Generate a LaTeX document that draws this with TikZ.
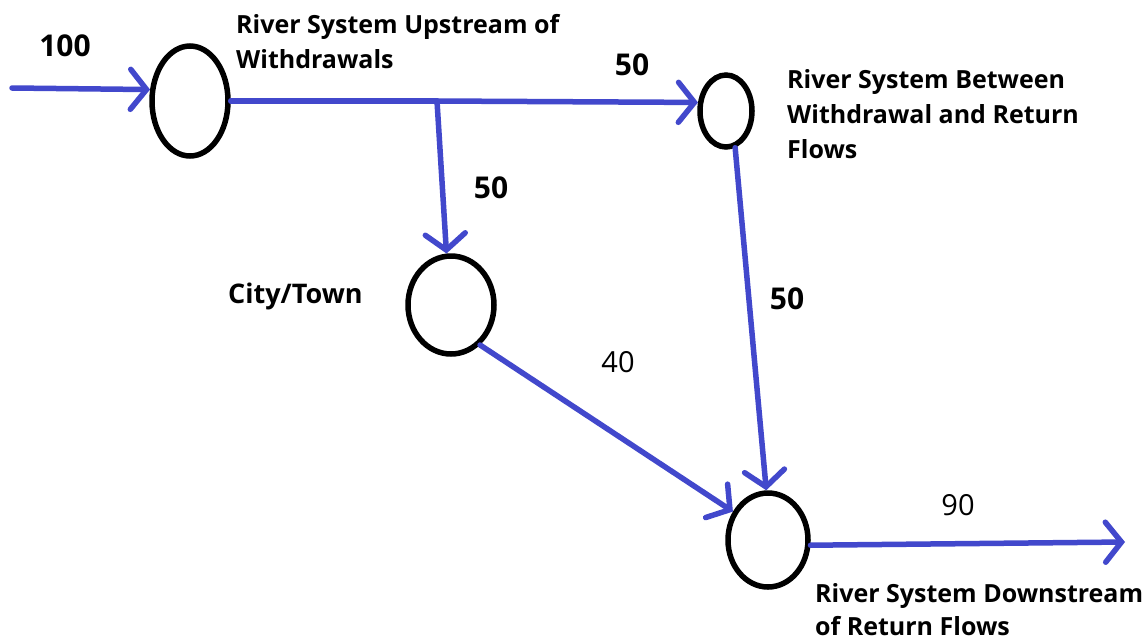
\documentclass[tikz,border=0pt]{standalone}
\usepackage{fontspec}
\setmainfont{Open Sans}
\usetikzlibrary{shapes.geometric,arrows.meta}
\definecolor{flowblue}{RGB}{66,72,204}
\tikzset{
  pool/.style={ellipse, draw=black, line width=5.5pt, inner sep=0pt},
  flow/.style={draw=flowblue, line width=5.5pt, line cap=round,
    -{Straight Barb[length=16pt,width=40pt,line cap=round]}},
  plain/.style={draw=flowblue, line width=5.5pt, line cap=round},
  title/.style={anchor=north west, align=left, inner sep=0pt, font=\fontsize{25}{35}\selectfont\bfseries},
  qty/.style={anchor=base, inner sep=0pt, font=\fontsize{30}{34}\selectfont\bfseries},
  qtyreg/.style={anchor=base, inner sep=0pt, font=\fontsize{29}{34}\selectfont}
}
\begin{document}
\begin{tikzpicture}[x=1pt,y=-1pt]
\path[use as bounding box, fill=white] (0,0) rectangle (1146,641);
% pools
\node[pool, minimum width=76pt, minimum height=110pt] (up) at (190,101) {};
\node[pool, minimum width=52pt, minimum height=72pt] (mid) at (726,111) {};
\node[pool, minimum width=86pt, minimum height=98pt] (city) at (451,305) {};
\node[pool, minimum width=80pt, minimum height=94pt] (down) at (768,540) {};
% free ends
\coordinate (in) at (12,88);
\coordinate (split) at (437,101);
\coordinate (out) at (1125,542);
% flows
\draw[flow] (in) -- (up.164);
\draw[plain] (up.east) -- (split);
\draw[flow] (split) -- (mid.163);
\draw[flow] (split) -- (city.95);
\draw[flow] (mid.-76) -- (down.92);
\draw[flow] (city.-54) -- (down.141);
\draw[flow] (down.-7) -- (out);
% texts
\node[title] (t1) at (236,14) {River System Upstream of\\Withdrawals};
\node[title] (t2) at (787,69) {River System Between\\Withdrawal and Return\\Flows};
\node[title, font=\fontsize{25}{33}\selectfont\bfseries] (t3) at (815,583) {River System Downstream\\of Return Flows};
\node[anchor=base west, inner sep=0pt, font=\fontsize{27}{30}\selectfont\bfseries] (tc) at (228,303) {City/Town};
\node[qty] (q100) at (65,56) {100};
\node[qty] (q50a) at (632,75) {50};
\node[qty] (q50b) at (491,198) {50};
\node[qty] (q50c) at (787,309) {50};
\node[qtyreg] (q40) at (618,372) {40};
\node[qtyreg] (q90) at (958,515) {90};
\end{tikzpicture}
\end{document}
